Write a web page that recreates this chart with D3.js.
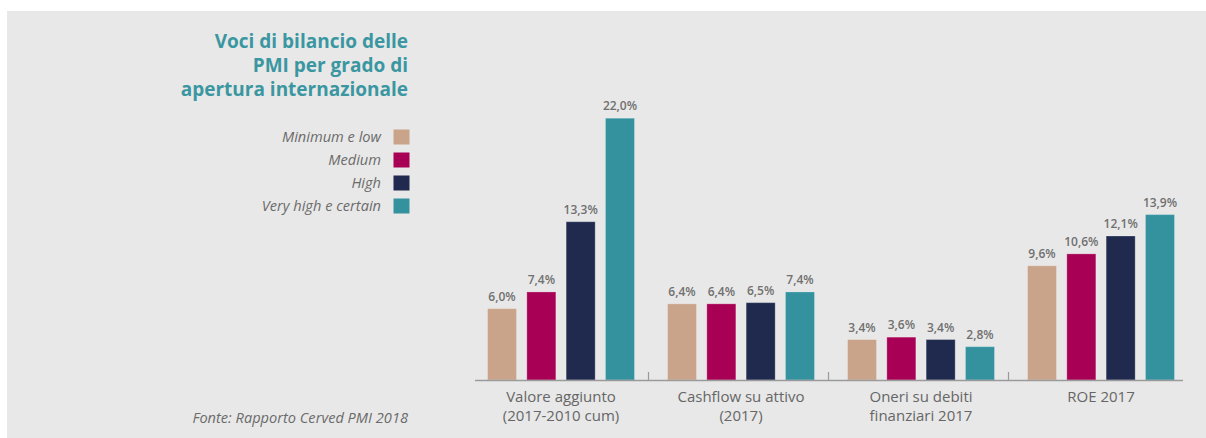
<!DOCTYPE html>
<html>
<head>
<meta charset="utf-8">
<script src="https://cdn.jsdelivr.net/npm/d3@7/dist/d3.min.js"></script>
<style>
  html, body { margin: 0; padding: 0; background: #ffffff; }
  svg { display: block; }
  text { font-family: "Open Sans", "Noto Sans", sans-serif; }
</style>
</head>
<body>
<svg id="chart" width="1206" height="438"></svg>
<script>
// Balance sheet items of SMEs by degree of international openness
const categories = [
  ["Valore aggiunto", "(2017-2010 cum)"],
  ["Cashflow su attivo", "(2017)"],
  ["Oneri su debiti", "finanziari 2017"],
  ["ROE 2017"]
];
const seriesNames = ["Minimum e low", "Medium", "High", "Very high e certain"];
const seriesColors = ["#c9a48a", "#a80054", "#1f2a4e", "#34929f"];

const minimumLow   = [6.0, 6.4, 3.4, 9.6];
const medium       = [7.4, 6.4, 3.6, 10.6];
const high         = [13.3, 6.5, 3.4, 12.1];
const veryHigh     = [22.0, 7.4, 2.8, 13.9];
const seriesValues = [minimumLow, medium, high, veryHigh];

const titleLines = ["Voci di bilancio delle", "PMI per grado di", "apertura internazionale"];
const sourceText = "Fonte: Rapporto Cerved PMI 2018";

const fmt = v => d3.format(".1f")(v).replace(".", ",") + "%";

const svg = d3.select("#chart");

// panel background
svg.append("rect")
  .attr("x", 7).attr("y", 11)
  .attr("width", 1199).attr("height", 427)
  .attr("fill", "#e8e8e8");

// scales
const catIdx = d3.range(categories.length);
const x0 = d3.scaleBand().domain(catIdx).range([471, 1191]).padding(0);
const x1 = d3.scaleBand().domain(d3.range(seriesNames.length))
  .range([11.35, 168.65]).paddingInner(0.262).paddingOuter(0.131);
const y = d3.scaleLinear().domain([0, 22]).range([380, 118.2]);

// title
const title = svg.append("text")
  .attr("text-anchor", "end")
  .attr("fill", "#3a97a1")
  .attr("font-weight", 700)
  .attr("font-size", 19);
titleLines.forEach((t, i) => {
  title.append("tspan").attr("x", 408).attr("y", 48 + i * 24).text(t);
});

// legend
const legend = svg.append("g");
seriesNames.forEach((name, i) => {
  const ly = 129.5 + i * 23;
  legend.append("rect")
    .attr("x", 393.5).attr("y", ly)
    .attr("width", 16).attr("height", 15)
    .attr("fill", seriesColors[i]);
  legend.append("text")
    .attr("x", 381).attr("y", ly + 12.5)
    .attr("text-anchor", "end")
    .attr("font-style", "italic")
    .attr("font-size", 14.6)
    .attr("fill", "#6b6b6b")
    .text(name);
});

// source
svg.append("text")
  .attr("x", 408).attr("y", 423)
  .attr("text-anchor", "end")
  .attr("font-style", "italic")
  .attr("font-size", 14.6)
  .attr("fill", "#6b6b6b")
  .text(sourceText);

// bars
const groups = svg.append("g").selectAll("g")
  .data(catIdx)
  .join("g")
  .attr("transform", c => `translate(${x0(c)},0)`);

groups.selectAll("rect")
  .data(c => seriesValues.map((vals, s) => ({ s, v: vals[c] })))
  .join("rect")
  .attr("x", d => x1(d.s))
  .attr("width", x1.bandwidth())
  .attr("y", d => y(d.v))
  .attr("height", d => y(0) - y(d.v))
  .attr("fill", d => seriesColors[d.s])
  .attr("stroke", "rgba(255,255,255,0.25)")
  .attr("stroke-width", 1);

groups.selectAll("text.val")
  .data(c => seriesValues.map((vals, s) => ({ s, v: vals[c] })))
  .join("text")
  .attr("class", "val")
  .attr("x", d => x1(d.s) + x1.bandwidth() / 2)
  .attr("y", d => y(d.v) - 8)
  .attr("text-anchor", "middle")
  .attr("font-size", 12)
  .attr("font-weight", 600)
  .attr("fill", "#707070")
  .text(d => fmt(d.v));

// axis baseline and group separators
const axisG = svg.append("g");
axisG.append("line")
  .attr("x1", 475).attr("x2", 1183)
  .attr("y1", 380.5).attr("y2", 380.5)
  .attr("stroke", "#9a9a9a").attr("stroke-width", 1.6);
catIdx.slice(1).forEach(c => {
  const tx = Math.round(x0(c)) - 2.5;
  axisG.append("line")
    .attr("x1", tx).attr("x2", tx)
    .attr("y1", 372).attr("y2", 380)
    .attr("stroke", "#9a9a9a").attr("stroke-width", 1.2);
});

// category labels
catIdx.forEach(c => {
  const t = svg.append("text")
    .attr("text-anchor", "middle")
    .attr("font-size", 15)
    .attr("fill", "#666666");
  categories[c].forEach((line, i) => {
    t.append("tspan")
      .attr("x", x0(c) + x0.bandwidth() / 2)
      .attr("y", 402 + i * 19)
      .text(line);
  });
});
</script>
</body>
</html>
